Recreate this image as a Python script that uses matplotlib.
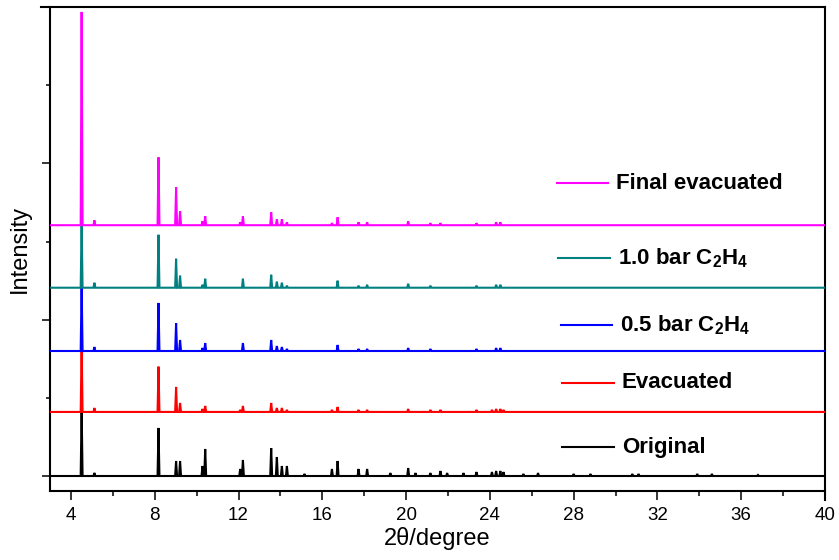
import matplotlib
matplotlib.use("Agg")
import matplotlib.pyplot as plt
from matplotlib.lines import Line2D
from matplotlib.ticker import MultipleLocator

plt.rcParams['font.family'] = ['Liberation Sans', 'DejaVu Sans']
plt.rcParams['mathtext.fontset'] = 'custom'
plt.rcParams['mathtext.rm'] = 'Liberation Sans'
plt.rcParams['mathtext.bf'] = 'Liberation Sans:bold'

# ---- data ----
x_start, x_end = 3.05, 39.95

labels = ["Original", "Evacuated", r"0.5 bar C$_\mathbf{2}$H$_\mathbf{4}$",
          r"1.0 bar C$_\mathbf{2}$H$_\mathbf{4}$", "Final evacuated"]
colors = ["#000000", "#FF0000", "#0000FF", "#008080", "#FF00FF"]
offsets = [0, 8200, 16000, 24100, 32100]

orig_pos = [4.51, 5.12, 8.18, 9.02, 9.21, 10.28, 10.41, 12.08, 12.21, 13.56, 13.83,
            14.07, 14.31, 15.15, 16.46, 16.73, 17.73, 18.14, 19.25, 20.10, 20.45,
            21.16, 21.64, 21.96, 22.74, 23.36, 24.10, 24.30, 24.50, 24.65, 25.60,
            26.30, 28.00, 28.80, 30.80, 31.10, 33.90, 34.60, 36.80]
orig_h = [8600, 400, 6150, 1920, 1920, 1280, 3460, 900, 2050, 3580, 2430,
          1280, 1280, 260, 900, 1920, 900, 900, 380, 1020, 380,
          380, 640, 380, 380, 510, 510, 640, 640, 510, 260,
          380, 260, 260, 260, 260, 260, 260, 130]

evac_pos = [4.51, 5.12, 8.18, 9.02, 9.21, 10.28, 10.41, 12.08, 12.21, 13.56, 13.83,
            14.07, 14.31, 16.46, 16.73, 17.73, 18.14, 20.10, 21.16, 21.64, 23.36,
            24.10, 24.30, 24.50, 24.65]
evac_h = [8400, 510, 5800, 3200, 1150, 380, 770, 260, 770, 1150, 510,
          510, 260, 260, 640, 260, 260, 380, 260, 260, 260,
          260, 380, 380, 260]

half_pos = [4.51, 5.12, 8.18, 9.02, 9.21, 10.28, 10.41, 12.21, 13.56, 13.83, 14.07,
            14.31, 16.73, 17.73, 18.14, 20.10, 21.16, 23.36, 24.30, 24.50]
half_h = [8400, 510, 6150, 3580, 1410, 380, 1020, 1020, 1410, 640, 510,
          260, 770, 260, 260, 380, 260, 260, 380, 380]

one_pos = [4.51, 5.12, 8.18, 9.02, 9.21, 10.28, 10.41, 12.21, 13.56, 13.83, 14.07,
           14.31, 16.73, 17.73, 18.14, 20.10, 21.16, 23.36, 24.30, 24.50]
one_h = [8400, 640, 6780, 3710, 1540, 380, 1150, 1150, 1660, 770, 640,
         260, 900, 260, 380, 510, 260, 260, 380, 380]

final_pos = [4.51, 5.12, 8.18, 9.02, 9.21, 10.28, 10.41, 12.08, 12.21, 13.56, 13.83,
             14.07, 14.31, 16.46, 16.73, 17.73, 18.14, 20.10, 21.16, 21.64, 23.36,
             24.30, 24.50]
final_h = [27300, 640, 8700, 4860, 1790, 510, 1150, 380, 1150, 1660, 770,
           770, 380, 260, 1020, 380, 380, 510, 260, 260, 260,
           380, 380]

peak_pos = [orig_pos, evac_pos, half_pos, one_pos, final_pos]
peak_h = [orig_h, evac_h, half_h, one_h, final_h]

x_ticks = [4, 8, 12, 16, 20, 24, 28, 32, 36, 40]

# legend anchor positions (axes fraction)
leg_x0 = [0.66, 0.66, 0.659, 0.655, 0.654]
leg_x1 = [0.728, 0.728, 0.725, 0.723, 0.72]
leg_y = [0.090, 0.224, 0.343, 0.481, 0.636]


def profile(pos, h, base, w=0.045):
    xs, ys = [x_start], [base]
    for p, hh in sorted(zip(pos, h)):
        xs += [p - w, p, p + w]
        ys += [base, base + hh, base]
    xs.append(x_end)
    ys.append(base)
    return xs, ys


fig = plt.figure(figsize=(8.39, 5.6), dpi=100)
ax = fig.add_axes([50 / 839, 1 - 491 / 560, 775 / 839, 484 / 560])

for i in range(5):
    xs, ys = profile(peak_pos[i], peak_h[i], offsets[i])
    ax.plot(xs, ys, color=colors[i], lw=1.5, zorder=2 + i, solid_joinstyle='miter')
    ax.plot([leg_x0[i], leg_x1[i]], [leg_y[i], leg_y[i]], color=colors[i], lw=1.5,
            transform=ax.transAxes)
    ax.text(leg_x1[i] + 0.010, leg_y[i], labels[i], transform=ax.transAxes,
            fontsize=16, fontweight='bold', va='center', ha='left')

ax.set_xlim(3, 40)
ax.set_ylim(-1920, 60030)
ax.set_xticks(x_ticks)
ax.xaxis.set_minor_locator(MultipleLocator(2))
ax.yaxis.set_major_locator(MultipleLocator(20000))
ax.yaxis.set_minor_locator(MultipleLocator(10000))
ax.set_yticklabels([])
ax.tick_params(axis='x', which='major', length=6.5, width=1.1, labelsize=13.5, pad=5)
ax.tick_params(axis='x', which='minor', length=3.5, width=1.1)
ax.tick_params(axis='y', which='major', length=6, width=1.1)
ax.tick_params(axis='y', which='minor', length=3, width=1.1)

for s in ['left', 'bottom']:
    ax.spines[s].set_linewidth(1.5)
ax.spines['top'].set_visible(False)
ax.spines['right'].set_visible(False)
# Origin-style offset frame lines
ax.add_line(Line2D([-9 / 775, 1], [1, 1], transform=ax.transAxes, color='black',
                   lw=1.5, clip_on=False))
ax.add_line(Line2D([1, 1], [1, -9 / 484], transform=ax.transAxes, color='black',
                   lw=1.5, clip_on=False))

ax.set_xlabel("2θ/degree", fontsize=17, labelpad=2)
ax.set_ylabel("Intensity", fontsize=17, labelpad=4)

fig.savefig("out.png", dpi=100)
